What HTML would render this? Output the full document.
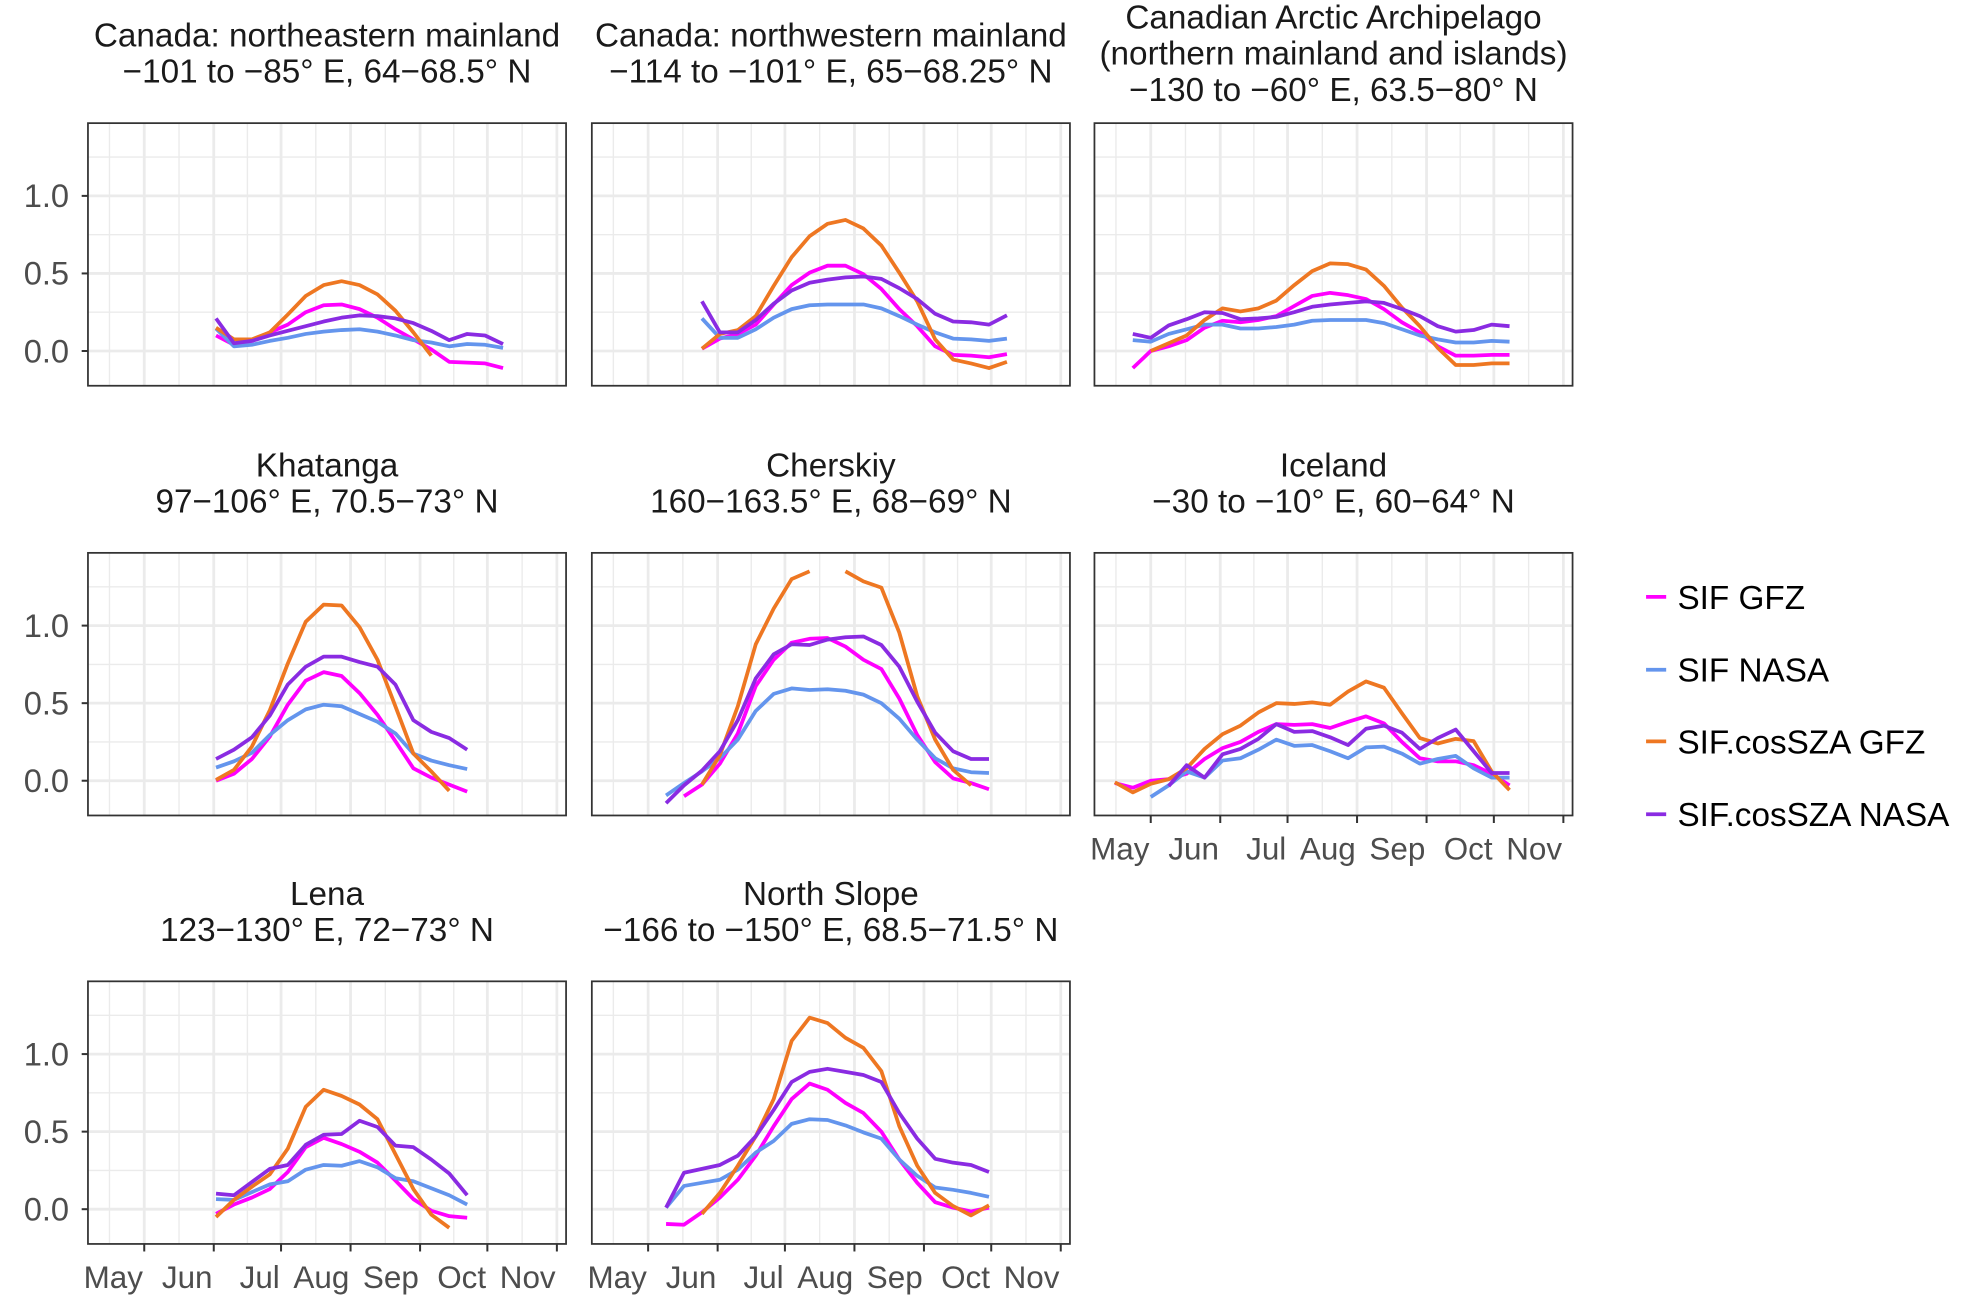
<!DOCTYPE html>
<html><head><meta charset="utf-8"><style>
html,body{margin:0;padding:0;background:#fff;}
svg{display:block;}
text{font-family:"Liberation Sans",Arial,sans-serif;}
</style></head>
<body>
<svg id="chart" xmlns="http://www.w3.org/2000/svg" width="1969" height="1304" viewBox="0 0 1567 1037.8" preserveAspectRatio="none">
<rect x="0" y="0" width="1567" height="1040" fill="#fff"/>
<g id="panels"></g>
<g id="legend">
  <line x1="1310" y1="475" x2="1326" y2="475" stroke="#FF00FF" stroke-width="3"/>
  <text x="1335" y="484.5" font-size="26.5" fill="#000">SIF GFZ</text>
  <line x1="1310" y1="533" x2="1326" y2="533" stroke="#6495ED" stroke-width="3"/>
  <text x="1335" y="542.5" font-size="26.5" fill="#000">SIF NASA</text>
  <line x1="1310" y1="590" x2="1326" y2="590" stroke="#EE7722" stroke-width="3"/>
  <text x="1335" y="599.5" font-size="26.5" fill="#000">SIF.cosSZA GFZ</text>
  <line x1="1310" y1="648" x2="1326" y2="648" stroke="#8A2BE2" stroke-width="3"/>
  <text x="1335" y="657.5" font-size="26.5" fill="#000">SIF.cosSZA NASA</text>
</g>
</svg>
<script>
// Shared 8-day composite dates (day of year)
const dates = [105,113,121,129,137,145,153,161,169,177,185,193,201,209,217,225,233,241,249,257,265,273,281];
const monthLabels = ["May","Jun","Jul","Aug","Sep","Oct","Nov"];
const monthTicks = [121,152,182,213,244,274,305];
const yTicks = [0,0.5,1.0];
const yTickLabels = ["0.0","0.5","1.0"];
const yMinor = [0.25,0.75,1.25];
const seriesNames = ["SIF GFZ","SIF NASA","SIF.cosSZA GFZ","SIF.cosSZA NASA"];

// Panel 1: Canada northeastern mainland
const p1Start = [6,6,6,6];
const p1Gfz = [0.10,0.04,0.065,0.12,0.17,0.25,0.295,0.30,0.27,0.215,0.14,0.075,0.01,-0.07,-0.075,-0.08,-0.11];
const p1Nasa = [0.145,0.03,0.04,0.065,0.085,0.11,0.125,0.135,0.14,0.125,0.10,0.07,0.055,0.03,0.045,0.04,0.02];
const p1CosGfz = [0.15,0.075,0.075,0.12,0.235,0.355,0.425,0.45,0.425,0.365,0.26,0.12,-0.03];
const p1CosNasa = [0.21,0.05,0.065,0.10,0.13,0.16,0.19,0.215,0.23,0.225,0.21,0.18,0.13,0.07,0.11,0.10,0.045];
// Panel 2: Canada northwestern mainland
const p2Start = [5,5,5,5];
const p2Gfz = [0.015,0.08,0.11,0.17,0.30,0.425,0.505,0.55,0.55,0.495,0.40,0.27,0.16,0.03,-0.025,-0.03,-0.04,-0.02];
const p2Nasa = [0.21,0.085,0.085,0.14,0.215,0.27,0.295,0.30,0.30,0.30,0.275,0.225,0.17,0.12,0.08,0.075,0.065,0.08];
const p2CosGfz = [0.015,0.11,0.135,0.225,0.42,0.605,0.74,0.82,0.845,0.79,0.68,0.505,0.32,0.075,-0.055,-0.08,-0.11,-0.07];
const p2CosNasa = [0.32,0.12,0.12,0.20,0.305,0.39,0.44,0.46,0.475,0.48,0.465,0.405,0.335,0.24,0.19,0.185,0.17,0.23];
// Panel 3: Canadian Arctic Archipelago
const p3Start = [1,1,2,1];
const p3Gfz = [-0.11,0,0.03,0.07,0.15,0.195,0.185,0.20,0.225,0.29,0.355,0.375,0.36,0.335,0.27,0.185,0.12,0.03,-0.03,-0.03,-0.025,-0.025];
const p3Nasa = [0.07,0.06,0.11,0.14,0.17,0.17,0.145,0.145,0.155,0.17,0.195,0.20,0.20,0.20,0.18,0.14,0.10,0.075,0.055,0.055,0.065,0.06];
const p3CosGfz = [0,0.05,0.10,0.20,0.275,0.255,0.275,0.325,0.425,0.515,0.565,0.56,0.525,0.42,0.28,0.16,0.02,-0.09,-0.09,-0.08,-0.08];
const p3CosNasa = [0.11,0.085,0.165,0.205,0.25,0.245,0.205,0.21,0.22,0.25,0.285,0.30,0.31,0.32,0.31,0.27,0.225,0.16,0.125,0.135,0.17,0.16];
// Panel 4: Khatanga
const p4Start = [6,6,6,6];
const p4Gfz = [0,0.045,0.14,0.285,0.49,0.645,0.70,0.675,0.565,0.425,0.255,0.08,0.02,-0.025,-0.07];
const p4Nasa = [0.085,0.125,0.18,0.295,0.39,0.46,0.49,0.48,0.43,0.38,0.305,0.175,0.13,0.10,0.075];
const p4CosGfz = [0.005,0.07,0.22,0.455,0.755,1.025,1.135,1.13,0.99,0.78,0.48,0.175,0.06,-0.065];
const p4CosNasa = [0.14,0.20,0.28,0.42,0.62,0.735,0.80,0.80,0.765,0.735,0.62,0.39,0.315,0.275,0.20];
// Panel 5: Cherskiy
const p5Start = [4,3,5,3];
const p5Gfz = [-0.10,-0.025,0.11,0.305,0.61,0.78,0.89,0.915,0.92,0.865,0.78,0.72,0.53,0.295,0.12,0.015,-0.015,-0.055];
const p5Nasa = [-0.095,-0.015,0.06,0.145,0.265,0.45,0.56,0.595,0.585,0.59,0.58,0.555,0.50,0.40,0.265,0.145,0.08,0.055,0.05];
const p5CosGfz = [-0.025,0.165,0.48,0.88,1.11,1.30,1.35,null,1.35,1.285,1.245,0.955,0.545,0.265,0.07,-0.03];
const p5CosNasa = [-0.145,-0.03,0.065,0.19,0.39,0.66,0.815,0.88,0.875,0.91,0.925,0.93,0.875,0.735,0.51,0.31,0.19,0.14,0.14];
// Panel 6: Iceland
const p6Start = [0,2,0,3];
const p6Gfz = [-0.015,-0.045,0,0.01,0.045,0.14,0.21,0.25,0.315,0.365,0.36,0.365,0.34,0.38,0.415,0.37,0.25,0.145,0.125,0.125,0.10,0.045,-0.03];
const p6Nasa = [-0.105,-0.03,0.06,0.02,0.13,0.145,0.20,0.265,0.225,0.23,0.19,0.145,0.215,0.22,0.175,0.11,0.14,0.16,0.08,0.02,0.02];
const p6CosGfz = [-0.01,-0.075,-0.02,0.01,0.08,0.205,0.30,0.355,0.44,0.50,0.495,0.505,0.49,0.575,0.64,0.60,0.435,0.275,0.24,0.27,0.255,0.06,-0.06];
const p6CosNasa = [-0.035,0.10,0.02,0.17,0.205,0.27,0.365,0.315,0.32,0.28,0.23,0.335,0.355,0.31,0.205,0.275,0.33,0.19,0.05,0.05];
// Panel 7: Lena
const p7Start = [6,6,6,6];
const p7Gfz = [-0.03,0.03,0.075,0.13,0.24,0.40,0.46,0.42,0.37,0.30,0.185,0.065,-0.01,-0.045,-0.055];
const p7Nasa = [0.065,0.06,0.11,0.16,0.18,0.255,0.285,0.28,0.31,0.27,0.20,0.18,0.135,0.09,0.03];
const p7CosGfz = [-0.05,0.06,0.145,0.225,0.39,0.66,0.77,0.73,0.675,0.58,0.355,0.13,-0.035,-0.12];
const p7CosNasa = [0.10,0.09,0.175,0.26,0.285,0.415,0.48,0.485,0.57,0.53,0.41,0.40,0.32,0.23,0.09];
// Panel 8: North Slope
const p8Start = [3,3,5,3];
const p8Gfz = [-0.095,-0.10,-0.02,0.075,0.19,0.345,0.535,0.71,0.81,0.77,0.685,0.62,0.50,0.32,0.17,0.045,0.01,-0.015,0.01];
const p8Nasa = [0.01,0.15,0.17,0.19,0.255,0.365,0.44,0.55,0.58,0.575,0.54,0.495,0.455,0.32,0.215,0.14,0.125,0.105,0.08];
const p8CosGfz = [-0.03,0.105,0.28,0.47,0.71,1.085,1.235,1.20,1.105,1.04,0.89,0.535,0.28,0.105,0.02,-0.04,0.025];
const p8CosNasa = [0.01,0.235,0.26,0.285,0.345,0.47,0.64,0.82,0.885,0.905,0.885,0.865,0.82,0.62,0.455,0.325,0.30,0.285,0.24];

const colors = ["#FF00FF","#6495ED","#EE7722","#8A2BE2"];
const panels = [
  {id:"canada-northeastern", title:["Canada: northeastern mainland","\u2212101 to \u221285\u00b0 E, 64\u221268.5\u00b0 N"], col:0,row:0, start:p1Start, s:[p1Gfz,p1Nasa,p1CosGfz,p1CosNasa], xlab:false},
  {id:"canada-northwestern", title:["Canada: northwestern mainland","\u2212114 to \u2212101\u00b0 E, 65\u221268.25\u00b0 N"], col:1,row:0, start:p2Start, s:[p2Gfz,p2Nasa,p2CosGfz,p2CosNasa], xlab:false},
  {id:"canadian-arctic-archipelago", title:["Canadian Arctic Archipelago","(northern mainland and islands)","\u2212130 to \u221260\u00b0 E, 63.5\u221280\u00b0 N"], col:2,row:0, start:p3Start, s:[p3Gfz,p3Nasa,p3CosGfz,p3CosNasa], xlab:false},
  {id:"khatanga", title:["Khatanga","97\u2212106\u00b0 E, 70.5\u221273\u00b0 N"], col:0,row:1, start:p4Start, s:[p4Gfz,p4Nasa,p4CosGfz,p4CosNasa], xlab:false},
  {id:"cherskiy", title:["Cherskiy","160\u2212163.5\u00b0 E, 68\u221269\u00b0 N"], col:1,row:1, start:p5Start, s:[p5Gfz,p5Nasa,p5CosGfz,p5CosNasa], xlab:false},
  {id:"iceland", title:["Iceland","\u221230 to \u221210\u00b0 E, 60\u221264\u00b0 N"], col:2,row:1, start:p6Start, s:[p6Gfz,p6Nasa,p6CosGfz,p6CosNasa], xlab:true},
  {id:"lena", title:["Lena","123\u2212130\u00b0 E, 72\u221273\u00b0 N"], col:0,row:2, start:p7Start, s:[p7Gfz,p7Nasa,p7CosGfz,p7CosNasa], xlab:true},
  {id:"north-slope", title:["North Slope","\u2212166 to \u2212150\u00b0 E, 68.5\u221271.5\u00b0 N"], col:1,row:2, start:p8Start, s:[p8Gfz,p8Nasa,p8CosGfz,p8CosNasa], xlab:true}
];

const NS = "http://www.w3.org/2000/svg";
const colX = [70,471,871], rowY = [98,440,781], PW = 380.5, PH = 209;
const xMin = 95.9, xMax = 309.1, yMin = -0.224, yMax = 1.469;
const root = document.getElementById("panels");
function el(tag, attrs, parent){ const e=document.createElementNS(NS,tag); for(const k in attrs) e.setAttribute(k,attrs[k]); parent.appendChild(e); return e; }

panels.forEach(p=>{
  const x0=colX[p.col], y0=rowY[p.row];
  const xs = d => x0 + (d-xMin)/(xMax-xMin)*PW;
  const ys = v => y0 + PH - (v-yMin)/(yMax-yMin)*PH;
  const g = el("g",{},root);
  
  
  const n = p.title.length;
  p.title.forEach((t,i)=>{
    const cy = y0 - 56 + (i-(n-1)/2)*28.7;
    const tx = el("text",{x:x0+PW/2, y:cy+9.5, "text-anchor":"middle","font-size":"26.5",fill:"#1a1a1a"},g);
    tx.textContent=t;
    
    
  });
  const gridG = el("g",{},g);
  
  
  yMinor.forEach(v=>{ el("line",{x1:x0,x2:x0+PW,y1:ys(v),y2:ys(v),stroke:"#EBEBEB","stroke-width":"1.1"},gridG); });
  for(let i=0;i<monthTicks.length;i++){
    const prev = i===0 ? 90 : monthTicks[i-1];
    const mid = (prev+monthTicks[i])/2;
    if(mid>xMin) el("line",{x1:xs(mid),x2:xs(mid),y1:y0,y2:y0+PH,stroke:"#EBEBEB","stroke-width":"1.1"},gridG);
  }
  yTicks.forEach(v=>{ el("line",{x1:x0,x2:x0+PW,y1:ys(v),y2:ys(v),stroke:"#EBEBEB","stroke-width":"2.2"},gridG); });
  monthTicks.forEach(d=>{ el("line",{x1:xs(d),x2:xs(d),y1:y0,y2:y0+PH,stroke:"#EBEBEB","stroke-width":"2.2"},gridG); });
  p.s.forEach((vals,si)=>{
    let d="", pen=false;
    vals.forEach((v,k)=>{
      const idx = p.start[si]+k;
      if(v===null){pen=false;return;}
      d += (pen?"L":"M")+xs(dates[idx]).toFixed(2)+","+ys(v).toFixed(2);
      pen=true;
    });
    const path = el("path",{d:d,fill:"none",stroke:colors[si],"stroke-width":"3","stroke-linejoin":"round"},g);
    
    
  });
  const b = el("rect",{x:x0,y:y0,width:PW,height:PH,fill:"none",stroke:"#333","stroke-width":"1.4"},g);
  
  
  if(p.col===0){
    yTicks.forEach((v,i)=>{
      el("line",{x1:x0-5,x2:x0,y1:ys(v),y2:ys(v),stroke:"#333","stroke-width":"1.6"},g);
      const t = el("text",{x:x0-15,y:ys(v)+9,"text-anchor":"end","font-size":"26",fill:"#4D4D4D"},g);
      t.textContent = yTickLabels[i];
      
      
    });
  }
  if(p.xlab){
    monthTicks.forEach((d,i)=>{
      el("line",{x1:xs(d),x2:xs(d),y1:y0+PH,y2:y0+PH+6,stroke:"#333","stroke-width":"1.6"},g);
      const t = el("text",{x:xs(d)-1,y:y0+PH+35,"text-anchor":"end","font-size":"25",fill:"#4D4D4D"},g);
      t.textContent = monthLabels[i];
      
      
    });
  }
});
</script>
</body></html>
